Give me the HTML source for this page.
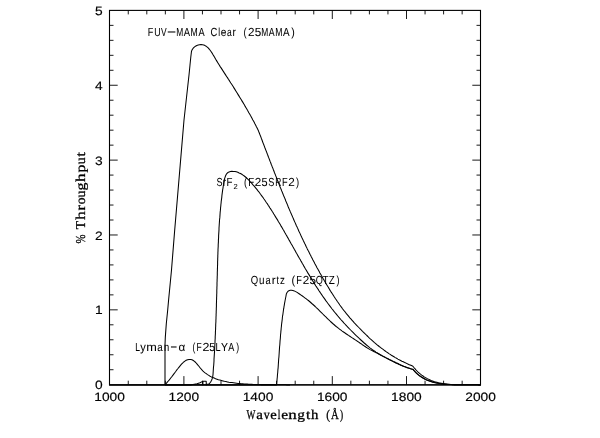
<!DOCTYPE html>
<html><head><meta charset="utf-8"><title>Throughput</title>
<style>
html,body{margin:0;padding:0;background:#fff;}
svg{display:block}
text{text-rendering:geometricPrecision}
.tick text{font-family:"Liberation Sans",sans-serif;font-size:12.1px;fill:#000;stroke:#000;stroke-width:0.15px}
.lab text{font-family:"Liberation Sans",sans-serif;font-size:11.7px;fill:#000;stroke:#000;stroke-width:0.05px}
.ax text{font-family:"Liberation Serif",serif;font-size:13.5px;fill:#000;stroke:#000;stroke-width:0.3px}
</style></head><body>
<svg width="600" height="438" viewBox="0 0 600 438">
<rect width="600" height="438" fill="#fff"/>
<g fill="none" stroke="#000" stroke-width="1.05" stroke-linejoin="round">
<path d="M165.0,385.0 L165.0,345.0 L165.3,337.4 L166.3,323.7 L167.7,310.0 L168.6,300.0 L171.5,270.0 L174.7,230.0 L180.2,165.0 L184.0,120.0 L189.0,75.0 L190.0,65.0 L190.8,57.0 L191.5,51.2 L192.2,49.6 L193.2,48.2 L194.3,47.1 L195.5,46.2 L196.8,45.5 L198.2,45.0 L199.6,44.7 L201.0,44.6 L202.4,44.7 L203.8,45.1 L205.0,45.6 L206.2,46.3 L207.3,47.1 L208.4,48.1 L209.4,49.3 L210.3,50.5 L211.2,51.8 L212.1,53.1 L212.9,54.5 L213.8,55.9 L214.6,57.3 L215.4,58.7 L216.2,60.1 L217.0,61.4 L217.8,62.7 L218.6,64.0 L219.4,65.3 L220.2,66.6 L221.1,67.9 L221.9,69.1 L222.7,70.4 L223.5,71.6 L224.3,72.9 L225.1,74.1 L225.9,75.4 L226.8,76.7 L227.6,77.9 L228.4,79.2 L229.2,80.4 L230.0,81.7 L230.8,83.0 L231.7,84.3 L232.5,85.5 L233.3,86.8 L234.1,88.1 L234.9,89.4 L235.7,90.7 L236.5,92.0 L237.3,93.3 L238.1,94.6 L238.9,95.9 L239.7,97.2 L240.5,98.5 L241.3,99.8 L242.1,101.1 L242.9,102.4 L243.7,103.7 L244.5,105.0 L245.2,106.4 L246.0,107.7 L246.8,109.0 L247.5,110.3 L248.3,111.7 L249.0,113.0 L249.8,114.3 L250.5,115.6 L251.3,117.0 L252.0,118.3 L252.7,119.7 L253.5,121.0 L254.2,122.3 L254.9,123.7 L255.6,125.0 L256.3,126.4 L257.0,127.7 L257.6,129.1 L258.3,130.4 L258.8,131.8 L259.4,133.2 L259.9,134.6 L260.5,136.0 L261.0,137.4 L261.5,138.8 L262.1,140.3 L262.6,141.7 L263.1,143.1 L263.7,144.5 L264.2,145.9 L264.7,147.3 L265.3,148.7 L265.8,150.1 L266.4,151.5 L266.9,152.9 L267.4,154.3 L268.0,155.8 L268.5,157.2 L269.1,158.6 L269.6,160.0 L270.1,161.4 L270.7,162.8 L271.2,164.2 L271.8,165.6 L272.3,167.0 L272.9,168.4 L273.4,169.8 L274.0,171.3 L274.5,172.7 L275.1,174.1 L275.6,175.5 L276.2,176.9 L276.7,178.3 L277.3,179.7 L277.8,181.1 L278.4,182.5 L278.9,183.9 L279.5,185.3 L280.0,186.7 L280.6,188.1 L281.2,189.5 L281.7,190.9 L282.3,192.3 L282.9,193.7 L283.4,195.1 L284.0,196.5 L284.6,197.9 L285.2,199.3 L285.7,200.7 L286.3,202.1 L286.9,203.5 L287.5,204.9 L288.0,206.3 L288.6,207.7 L289.2,209.1 L289.8,210.5 L290.4,211.9 L291.0,213.2 L291.6,214.6 L292.2,216.0 L292.8,217.4 L293.4,218.8 L294.0,220.2 L294.6,221.6 L295.2,222.9 L295.8,224.3 L296.4,225.7 L297.1,227.1 L297.7,228.4 L298.3,229.8 L298.9,231.2 L299.6,232.6 L300.2,233.9 L300.8,235.3 L301.5,236.7 L302.1,238.0 L302.8,239.4 L303.4,240.8 L304.0,242.1 L304.7,243.5 L305.4,244.8 L306.0,246.2 L306.7,247.6 L307.3,248.9 L308.0,250.3 L308.7,251.6 L309.4,253.0 L310.0,254.3 L310.7,255.6 L311.4,257.0 L312.1,258.3 L312.8,259.7 L313.5,261.0 L314.2,262.3 L314.9,263.7 L315.6,265.0 L316.3,266.3 L317.0,267.7 L317.8,269.0 L318.5,270.3 L319.2,271.6 L319.9,272.9 L320.7,274.3 L321.4,275.6 L322.2,276.9 L322.9,278.2 L323.7,279.5 L324.4,280.8 L325.2,282.1 L325.9,283.4 L326.7,284.7 L327.5,286.0 L328.3,287.3 L329.1,288.6 L329.8,289.9 L330.6,291.2 L331.4,292.4 L332.3,293.7 L333.1,295.0 L333.9,296.3 L334.7,297.5 L335.5,298.8 L336.4,300.0 L337.2,301.3 L338.1,302.5 L339.0,303.8 L339.8,305.0 L340.7,306.2 L341.6,307.4 L342.5,308.7 L343.4,309.9 L344.3,311.0 L345.3,312.2 L346.2,313.4 L347.2,314.6 L348.1,315.7 L349.1,316.9 L350.1,318.1 L351.1,319.2 L352.1,320.3 L353.1,321.4 L354.1,322.6 L355.1,323.7 L356.2,324.8 L357.2,325.9 L358.3,327.0 L359.3,328.0 L360.4,329.1 L361.4,330.2 L362.5,331.3 L363.6,332.3 L364.6,333.4 L365.7,334.4 L366.8,335.5 L367.9,336.5 L368.9,337.6 L370.0,338.6 L371.2,339.6 L372.3,340.6 L373.4,341.6 L374.5,342.6 L375.7,343.6 L376.8,344.6 L378.0,345.5 L379.2,346.5 L380.4,347.4 L381.6,348.3 L382.8,349.2 L384.0,350.1 L385.2,351.0 L386.4,351.9 L387.7,352.7 L388.9,353.6 L390.2,354.4 L391.4,355.2 L392.7,356.0 L394.0,356.8 L395.3,357.6 L396.6,358.3 L397.9,359.1 L399.2,359.8 L400.6,360.5 L401.9,361.2 L403.3,361.8 L404.6,362.5 L406.0,363.1 L407.4,363.8 L408.7,364.4 L410.1,365.0 L411.5,365.6 L412.9,366.2 L413.9,367.5 L414.9,368.7 L415.9,369.9 L417.0,371.0 L418.1,372.1 L419.3,373.2 L420.5,374.2 L421.7,375.1 L423.0,376.0 L424.2,376.9 L425.6,377.7 L426.9,378.4 L428.3,379.1 L429.7,379.8 L431.1,380.4 L432.5,380.9 L433.9,381.5 L435.4,381.9 L436.9,382.3 L438.4,382.7 L439.9,383.0 L441.4,383.3 L443.0,383.6 L444.5,383.8 L446.1,384.0 L447.7,384.2 L449.2,384.3 L450.8,384.4 L452.4,384.5 L454.0,384.6 L455.6,384.6 L457.2,384.7 L458.8,384.7 L460.4,384.7 L462.0,384.7 L463.5,384.7 L465.1,384.7 L466.7,384.7 L468.3,384.7 L469.8,384.7 L471.4,384.7 L472.9,384.7 L474.5,384.7 L476.0,384.8 L477.5,384.8 L479.0,384.9 L480.5,385.0"/>
<path d="M165.0,385.0 L190.5,385.0 L193.0,384.6 L197.0,383.8 L200.0,382.7 L202.6,381.4 L202.9,385.0 L202.9,381.2 L206.2,381.2 L206.3,385.0 L206.4,384.2 L208.9,383.9 L210.0,382.8 L210.9,381.6 L211.6,380.3 L212.1,378.9 L212.5,377.5 L212.8,376.1 L213.0,374.6 L213.1,373.1 L213.2,371.6 L213.3,370.0 L213.4,368.5 L213.5,367.0 L213.7,365.5 L213.8,364.0 L213.9,362.5 L214.0,361.0 L214.0,359.4 L214.1,357.9 L214.2,356.4 L214.3,354.9 L214.4,353.4 L214.5,351.9 L214.6,350.4 L214.7,348.9 L214.7,347.4 L214.8,345.9 L214.9,344.4 L215.0,342.9 L215.0,341.4 L215.1,339.8 L215.2,338.3 L215.2,336.8 L215.3,335.3 L215.4,333.8 L215.4,332.3 L215.5,330.8 L215.6,329.3 L215.6,327.8 L215.7,326.3 L215.7,324.8 L215.8,323.3 L215.9,321.8 L215.9,320.3 L216.0,318.8 L216.0,317.3 L216.1,315.8 L216.1,314.3 L216.2,312.8 L216.2,311.3 L216.3,309.8 L216.3,308.3 L216.4,306.8 L216.4,305.3 L216.4,303.8 L216.5,302.3 L216.5,300.8 L216.6,299.3 L216.6,297.8 L216.7,296.3 L216.7,294.8 L216.8,293.3 L216.8,291.8 L216.8,290.2 L216.9,288.7 L216.9,287.2 L217.0,285.7 L217.0,284.2 L217.0,282.7 L217.1,281.2 L217.1,279.7 L217.2,278.2 L217.2,276.7 L217.3,275.2 L217.3,273.7 L217.3,272.2 L217.4,270.7 L217.4,269.1 L217.5,267.6 L217.5,266.1 L217.6,264.6 L217.6,263.1 L217.6,261.6 L217.7,260.1 L217.7,258.6 L217.8,257.0 L217.8,255.5 L217.9,254.0 L217.9,252.5 L218.0,251.0 L218.0,249.5 L218.1,248.0 L218.2,246.4 L218.2,244.9 L218.3,243.4 L218.4,241.9 L218.4,240.4 L218.5,238.9 L218.6,237.4 L218.6,235.9 L218.7,234.4 L218.8,232.9 L218.9,231.4 L219.0,229.8 L219.0,228.3 L219.1,226.8 L219.2,225.3 L219.3,223.8 L219.4,222.3 L219.5,220.8 L219.6,219.3 L219.8,217.9 L219.9,216.4 L220.0,214.9 L220.1,213.4 L220.2,211.9 L220.4,210.4 L220.5,208.9 L220.6,207.4 L220.8,206.0 L220.9,204.5 L221.1,203.0 L221.2,201.5 L221.4,200.1 L221.6,198.6 L221.8,197.1 L221.9,195.6 L222.1,194.1 L222.3,192.6 L222.5,191.1 L222.7,189.6 L223.0,188.1 L223.2,186.5 L223.5,184.9 L223.7,183.3 L224.0,181.7 L224.3,180.1 L224.6,178.6 L225.1,177.1 L225.6,175.7 L226.2,174.5 L227.0,173.4 L228.0,172.5 L229.1,171.9 L230.4,171.5 L231.9,171.3 L233.4,171.4 L234.9,171.5 L236.3,171.8 L237.8,172.3 L239.1,172.9 L240.5,173.5 L241.8,174.3 L243.0,175.1 L244.3,176.0 L245.5,177.0 L246.6,178.0 L247.8,179.1 L248.9,180.2 L249.9,181.4 L251.0,182.5 L252.0,183.6 L253.0,184.8 L254.0,185.9 L255.0,187.1 L256.0,188.3 L256.9,189.4 L257.8,190.6 L258.8,191.8 L259.7,193.0 L260.5,194.2 L261.4,195.4 L262.3,196.6 L263.2,197.8 L264.0,199.0 L264.9,200.2 L265.7,201.5 L266.5,202.7 L267.4,203.9 L268.2,205.2 L269.0,206.4 L269.8,207.7 L270.6,208.9 L271.5,210.2 L272.3,211.5 L273.1,212.7 L273.8,214.0 L274.6,215.3 L275.4,216.6 L276.2,217.9 L277.0,219.1 L277.8,220.4 L278.5,221.7 L279.3,223.0 L280.1,224.3 L280.8,225.6 L281.6,226.9 L282.4,228.2 L283.1,229.5 L283.9,230.8 L284.6,232.2 L285.4,233.5 L286.1,234.8 L286.9,236.1 L287.6,237.4 L288.4,238.7 L289.1,240.1 L289.9,241.4 L290.6,242.7 L291.3,244.0 L292.1,245.3 L292.8,246.6 L293.6,248.0 L294.3,249.3 L295.1,250.6 L295.8,251.9 L296.5,253.2 L297.3,254.6 L298.0,255.9 L298.8,257.2 L299.5,258.5 L300.3,259.8 L301.0,261.1 L301.8,262.4 L302.5,263.7 L303.3,265.1 L304.0,266.4 L304.8,267.7 L305.5,269.0 L306.3,270.3 L307.1,271.6 L307.8,272.9 L308.6,274.1 L309.4,275.4 L310.2,276.7 L311.0,278.0 L311.7,279.3 L312.5,280.6 L313.3,281.8 L314.1,283.1 L314.9,284.4 L315.7,285.7 L316.5,286.9 L317.4,288.2 L318.2,289.4 L319.0,290.7 L319.8,291.9 L320.7,293.2 L321.5,294.4 L322.4,295.7 L323.2,296.9 L324.1,298.1 L325.0,299.4 L325.8,300.6 L326.7,301.8 L327.6,303.0 L328.5,304.2 L329.4,305.4 L330.3,306.6 L331.2,307.8 L332.1,309.0 L333.1,310.2 L334.0,311.4 L334.9,312.5 L335.9,313.7 L336.9,314.9 L337.8,316.0 L338.8,317.2 L339.8,318.3 L340.8,319.5 L341.8,320.6 L342.8,321.7 L343.8,322.9 L344.9,324.0 L345.9,325.1 L346.9,326.2 L348.0,327.3 L349.0,328.4 L350.1,329.5 L351.1,330.5 L352.2,331.6 L353.3,332.7 L354.4,333.8 L355.4,334.8 L356.5,335.9 L357.6,336.9 L358.7,337.9 L359.8,339.0 L360.9,340.0 L362.0,341.0 L363.1,342.0 L364.2,343.0 L365.4,344.0 L366.5,345.0 L367.6,345.9 L368.8,346.9 L369.9,347.8 L371.1,348.7 L372.3,349.6 L373.5,350.5 L374.8,351.3 L376.0,352.1 L377.3,352.9 L378.6,353.7 L379.9,354.5 L381.2,355.2 L382.5,356.0 L383.9,356.7 L385.2,357.4 L386.6,358.1 L387.9,358.7 L389.3,359.4 L390.7,360.1 L392.0,360.7 L393.4,361.4 L394.8,362.0 L396.1,362.7 L397.5,363.3 L398.8,364.0 L400.2,364.6 L401.5,365.3 L402.9,365.9 L404.2,366.5 L405.6,367.0 L407.0,367.5 L408.4,368.0 L409.9,368.5 L411.4,368.9 L412.9,369.2 L414.0,370.5 L415.1,371.7 L416.2,372.8 L417.4,373.9 L418.6,374.9 L419.8,375.8 L421.1,376.7 L422.4,377.5 L423.7,378.3 L425.0,379.0 L426.4,379.7 L427.8,380.3 L429.2,380.8 L430.7,381.3 L432.1,381.8 L433.6,382.2 L435.1,382.6 L436.6,382.9 L438.2,383.2 L439.7,383.5 L441.3,383.7 L442.8,383.9 L444.4,384.1 L446.0,384.2 L447.6,384.3 L449.2,384.4 L450.8,384.5 L452.4,384.6 L454.0,384.6 L455.6,384.6 L457.3,384.7 L458.9,384.7 L460.5,384.7 L462.1,384.7 L463.7,384.7 L465.3,384.7 L466.8,384.7 L468.4,384.6 L470.0,384.7 L471.5,384.7 L473.1,384.7 L474.6,384.7 L476.1,384.8 L477.6,384.8 L479.1,384.9 L480.5,385.0"/>
<path d="M109.5,385.0 L276.5,385.0 L276.7,383.5 L276.8,381.9 L277.0,380.4 L277.1,378.9 L277.3,377.3 L277.4,375.8 L277.5,374.2 L277.7,372.7 L277.8,371.2 L277.9,369.6 L278.1,368.1 L278.2,366.6 L278.3,365.0 L278.4,363.5 L278.5,361.9 L278.6,360.4 L278.7,358.8 L278.9,357.3 L279.0,355.8 L279.1,354.2 L279.2,352.7 L279.3,351.1 L279.4,349.6 L279.5,348.1 L279.6,346.5 L279.8,345.0 L279.9,343.4 L280.0,341.9 L280.1,340.4 L280.3,338.8 L280.4,337.3 L280.5,335.7 L280.6,334.2 L280.8,332.7 L280.9,331.1 L281.1,329.6 L281.2,328.0 L281.4,326.5 L281.5,325.0 L281.7,323.4 L281.9,321.9 L282.1,320.4 L282.3,318.8 L282.4,317.3 L282.6,315.8 L282.9,314.3 L283.1,312.7 L283.3,311.2 L283.5,309.7 L283.8,308.2 L284.0,306.6 L284.3,305.1 L284.5,303.6 L284.8,302.1 L285.1,300.5 L285.4,299.0 L285.7,297.5 L286.0,296.0 L286.3,294.1 L286.9,292.7 L287.8,291.5 L288.9,290.7 L290.2,290.3 L291.5,290.2 L292.9,290.5 L294.3,290.9 L295.7,291.6 L297.1,292.4 L298.4,293.3 L299.8,294.2 L301.1,295.1 L302.4,296.0 L303.6,296.9 L304.8,297.8 L306.0,298.7 L307.2,299.6 L308.4,300.5 L309.6,301.5 L310.7,302.5 L311.8,303.5 L313.0,304.5 L314.1,305.5 L315.2,306.5 L316.3,307.6 L317.4,308.6 L318.5,309.7 L319.6,310.8 L320.6,311.8 L321.7,312.9 L322.8,314.0 L323.9,315.1 L325.0,316.2 L326.1,317.2 L327.2,318.3 L328.3,319.4 L329.4,320.4 L330.5,321.5 L331.6,322.5 L332.7,323.5 L333.9,324.5 L335.0,325.5 L336.2,326.5 L337.4,327.4 L338.6,328.4 L339.8,329.3 L341.0,330.2 L342.2,331.1 L343.5,332.0 L344.7,332.8 L346.0,333.7 L347.2,334.5 L348.5,335.4 L349.8,336.2 L351.1,337.1 L352.3,337.9 L353.6,338.7 L354.9,339.6 L356.1,340.4 L357.4,341.3 L358.7,342.1 L359.9,343.0 L361.2,343.8 L362.4,344.7 L363.7,345.6 L365.0,346.5 L366.2,347.3 L367.5,348.1 L368.8,348.9 L370.1,349.6 L371.5,350.3 L372.9,351.0 L374.2,351.7 L375.6,352.4 L376.9,353.0 L378.3,353.7 L379.6,354.5 L381.0,355.2 L382.3,355.9 L383.7,356.6 L385.0,357.3 L386.4,358.1 L387.7,358.8 L389.0,359.5 L390.4,360.2 L391.7,360.9 L393.1,361.6 L394.5,362.3 L395.8,363.0 L397.2,363.6 L398.6,364.2 L400.0,364.9 L401.4,365.5 L402.8,366.1 L404.2,366.6 L405.6,367.1 L407.0,367.7 L408.5,368.1 L409.9,368.6 L411.4,369.0 L412.9,369.4 L414.0,370.7 L415.1,371.9 L416.2,373.0 L417.4,374.1 L418.6,375.1 L419.8,376.1 L421.1,376.9 L422.4,377.7 L423.7,378.5 L425.0,379.2 L426.4,379.9 L427.8,380.5 L429.2,381.0 L430.7,381.5 L432.1,382.0 L433.6,382.4 L435.1,382.7 L436.6,383.1 L438.2,383.3 L439.7,383.6 L441.3,383.8 L442.8,384.0 L444.4,384.2 L446.0,384.3 L447.6,384.4 L449.2,384.5 L450.8,384.6 L452.4,384.7 L454.0,384.7 L455.6,384.7 L457.3,384.7 L458.9,384.7 L460.5,384.7 L462.1,384.7 L463.7,384.7 L465.3,384.7 L466.8,384.7 L468.4,384.7 L470.0,384.7 L471.5,384.7 L473.1,384.7 L474.6,384.7 L476.1,384.8 L477.6,384.8 L479.1,384.9 L480.5,385.0"/>
<path d="M165.2,384.5 L166.3,383.4 L167.3,382.2 L168.3,381.0 L169.3,379.9 L170.2,378.7 L171.1,377.5 L172.1,376.3 L173.0,375.1 L173.9,373.9 L174.8,372.7 L175.7,371.5 L176.6,370.2 L177.6,369.0 L178.5,367.8 L179.5,366.6 L180.5,365.4 L181.5,364.2 L182.6,363.1 L183.7,362.0 L184.9,361.1 L186.2,360.3 L187.6,359.7 L189.1,359.4 L190.6,359.4 L192.0,359.8 L193.3,360.5 L194.5,361.4 L195.7,362.5 L196.7,363.6 L197.7,364.8 L198.7,366.0 L199.7,367.3 L200.7,368.5 L201.7,369.7 L202.8,370.8 L203.9,371.8 L205.1,372.8 L206.3,373.7 L207.5,374.6 L208.8,375.4 L210.1,376.2 L211.4,376.9 L212.8,377.5 L214.2,378.1 L215.6,378.7 L217.0,379.2 L218.4,379.7 L219.9,380.1 L221.4,380.5 L222.9,380.9 L224.4,381.3 L225.9,381.6 L227.4,381.9 L228.9,382.2 L230.4,382.4 L232.0,382.6 L233.5,382.8 L235.0,383.0 L236.5,383.2 L238.1,383.4 L239.6,383.5 L241.1,383.7 L242.6,383.8 L244.2,383.9 L245.7,384.0 L247.2,384.1 L248.7,384.2 L250.3,384.3 L251.8,384.3 L253.3,384.4 L254.8,384.4 L256.4,384.5 L257.9,384.5 L259.4,384.5 L260.9,384.6 L262.5,384.6 L264.0,384.6 L265.5,384.6 L267.0,384.6 L268.6,384.6 L270.1,384.6 L271.6,384.6 L273.1,384.7 L274.7,384.7 L276.2,384.7 L277.7,384.7 L279.3,384.7 L280.8,384.7 L282.3,384.8 L283.9,384.8 L285.4,384.8 L286.9,384.9 L288.5,384.9 L290.0,385.0"/>
</g>
<path d="M128.25,384.7 v-4 M128.25,10.4 v4 M146.80,384.7 v-4 M146.80,10.4 v4 M165.35,384.7 v-4 M165.35,10.4 v4 M183.90,384.7 v-8.6 M183.90,10.4 v8.6 M202.45,384.7 v-4 M202.45,10.4 v4 M221.00,384.7 v-4 M221.00,10.4 v4 M239.55,384.7 v-4 M239.55,10.4 v4 M258.10,384.7 v-8.6 M258.10,10.4 v8.6 M276.65,384.7 v-4 M276.65,10.4 v4 M295.20,384.7 v-4 M295.20,10.4 v4 M313.75,384.7 v-4 M313.75,10.4 v4 M332.30,384.7 v-8.6 M332.30,10.4 v8.6 M350.85,384.7 v-4 M350.85,10.4 v4 M369.40,384.7 v-4 M369.40,10.4 v4 M387.95,384.7 v-4 M387.95,10.4 v4 M406.50,384.7 v-8.6 M406.50,10.4 v8.6 M425.05,384.7 v-4 M425.05,10.4 v4 M443.60,384.7 v-4 M443.60,10.4 v4 M462.15,384.7 v-4 M462.15,10.4 v4 M109.5,369.73 h4 M480.5,369.73 h-4 M109.5,354.76 h4 M480.5,354.76 h-4 M109.5,339.78 h4 M480.5,339.78 h-4 M109.5,324.81 h4 M480.5,324.81 h-4 M109.5,309.84 h8.2 M480.5,309.84 h-8.2 M109.5,294.87 h4 M480.5,294.87 h-4 M109.5,279.90 h4 M480.5,279.90 h-4 M109.5,264.92 h4 M480.5,264.92 h-4 M109.5,249.95 h4 M480.5,249.95 h-4 M109.5,234.98 h8.2 M480.5,234.98 h-8.2 M109.5,220.01 h4 M480.5,220.01 h-4 M109.5,205.04 h4 M480.5,205.04 h-4 M109.5,190.06 h4 M480.5,190.06 h-4 M109.5,175.09 h4 M480.5,175.09 h-4 M109.5,160.12 h8.2 M480.5,160.12 h-8.2 M109.5,145.15 h4 M480.5,145.15 h-4 M109.5,130.18 h4 M480.5,130.18 h-4 M109.5,115.20 h4 M480.5,115.20 h-4 M109.5,100.23 h4 M480.5,100.23 h-4 M109.5,85.26 h8.2 M480.5,85.26 h-8.2 M109.5,70.29 h4 M480.5,70.29 h-4 M109.5,55.32 h4 M480.5,55.32 h-4 M109.5,40.34 h4 M480.5,40.34 h-4 M109.5,25.37 h4 M480.5,25.37 h-4" fill="none" stroke="#000" stroke-width="0.9"/>
<rect x="109.5" y="10.4" width="371.0" height="374.3" fill="none" stroke="#000" stroke-width="1.1"/>
<path d="M109.0,385.1 H481.0" fill="none" stroke="#000" stroke-width="1.0"/>
<g class="tick"><text x="94.3" y="400.6" textLength="30.6" lengthAdjust="spacingAndGlyphs">1000</text><text x="168.5" y="400.6" textLength="30.6" lengthAdjust="spacingAndGlyphs">1200</text><text x="242.7" y="400.6" textLength="30.6" lengthAdjust="spacingAndGlyphs">1400</text><text x="316.9" y="400.6" textLength="30.6" lengthAdjust="spacingAndGlyphs">1600</text><text x="391.1" y="400.6" textLength="30.6" lengthAdjust="spacingAndGlyphs">1800</text><text x="465.3" y="400.6" textLength="30.6" lengthAdjust="spacingAndGlyphs">2000</text><text x="95.0" y="389.3" textLength="7.66" lengthAdjust="spacingAndGlyphs">0</text><text x="95.0" y="314.4" textLength="7.66" lengthAdjust="spacingAndGlyphs">1</text><text x="95.0" y="239.6" textLength="7.66" lengthAdjust="spacingAndGlyphs">2</text><text x="95.0" y="164.7" textLength="7.66" lengthAdjust="spacingAndGlyphs">3</text><text x="95.0" y="89.9" textLength="7.66" lengthAdjust="spacingAndGlyphs">4</text><text x="95.0" y="15.0" textLength="7.66" lengthAdjust="spacingAndGlyphs">5</text></g>
<g class="lab">
<text x="147.8 154.3 161.0 166.6 176.2 183.7 190.5 198.4 204.6 210.6 218.3 220.8 227.0 232.4 235.7 243.4 247.9 254.8 261.2 268.7 275.2 283.0 291.2" y="35.7 35.7 35.7 35.11 35.7 35.7 35.7 35.7 35.7 35.7 35.7 35.7 35.7 35.7 35.7 35.7 35.7 35.7 35.7 35.7 35.7 35.7 35.7"><tspan textLength="5.56" lengthAdjust="spacingAndGlyphs">F</tspan><tspan textLength="6.42" lengthAdjust="spacingAndGlyphs">U</tspan><tspan textLength="5.62" lengthAdjust="spacingAndGlyphs">V</tspan><tspan textLength="10.16" lengthAdjust="spacingAndGlyphs">-</tspan><tspan textLength="7.02" lengthAdjust="spacingAndGlyphs">M</tspan><tspan textLength="6.29" lengthAdjust="spacingAndGlyphs">A</tspan><tspan textLength="7.22" lengthAdjust="spacingAndGlyphs">M</tspan><tspan textLength="6.14" lengthAdjust="spacingAndGlyphs">A</tspan> <tspan textLength="6.78" lengthAdjust="spacingAndGlyphs">C</tspan><tspan textLength="1.87" lengthAdjust="spacingAndGlyphs">l</tspan><tspan textLength="5.63" lengthAdjust="spacingAndGlyphs">e</tspan><tspan textLength="4.69" lengthAdjust="spacingAndGlyphs">a</tspan><tspan textLength="3.33" lengthAdjust="spacingAndGlyphs">r</tspan> <tspan textLength="3.14" lengthAdjust="spacingAndGlyphs">(</tspan>25<tspan textLength="7.02" lengthAdjust="spacingAndGlyphs">M</tspan><tspan textLength="5.83" lengthAdjust="spacingAndGlyphs">A</tspan><tspan textLength="7.22" lengthAdjust="spacingAndGlyphs">M</tspan><tspan textLength="6.59" lengthAdjust="spacingAndGlyphs">A</tspan><tspan textLength="3.52" lengthAdjust="spacingAndGlyphs">)</tspan></text>
<text x="216.6 222.8 226.5" y="185.8 185.8 185.8"><tspan textLength="6.02" lengthAdjust="spacingAndGlyphs">S</tspan><tspan textLength="3.33" lengthAdjust="spacingAndGlyphs">r</tspan><tspan textLength="5.94" lengthAdjust="spacingAndGlyphs">F</tspan></text><text x="233.4" y="188.8" style="font-size:7.2px" textLength="4.2" lengthAdjust="spacingAndGlyphs">2</text><text x="243.9 248.2 254.7 261.6 268.3 275.2 282.0 288.2 295.9" y="185.8 185.8 185.8 185.8 185.8 185.8 185.8 185.8 185.8"><tspan textLength="3.14" lengthAdjust="spacingAndGlyphs">(</tspan><tspan textLength="5.94" lengthAdjust="spacingAndGlyphs">F</tspan>2<tspan textLength="6.10" lengthAdjust="spacingAndGlyphs">5</tspan><tspan textLength="6.08" lengthAdjust="spacingAndGlyphs">S</tspan><tspan textLength="6.08" lengthAdjust="spacingAndGlyphs">R</tspan><tspan textLength="5.62" lengthAdjust="spacingAndGlyphs">F</tspan>2<tspan textLength="3.14" lengthAdjust="spacingAndGlyphs">)</tspan></text>
<text x="250.8 258.9 265.4 271.8 276.6 280.1 284.9 291.4 296.3 302.8 309.5 315.8 322.7 328.8 336.6" y="283.6 283.6 283.6 283.6 283.6 283.6 283.6 283.6 283.6 283.6 283.6 283.6 283.6 283.6 283.6"><tspan textLength="7.41" lengthAdjust="spacingAndGlyphs">Q</tspan><tspan textLength="5.50" lengthAdjust="spacingAndGlyphs">u</tspan><tspan textLength="5.09" lengthAdjust="spacingAndGlyphs">a</tspan>r<tspan textLength="2.50" lengthAdjust="spacingAndGlyphs">t</tspan><tspan textLength="4.88" lengthAdjust="spacingAndGlyphs">z</tspan> <tspan textLength="3.64" lengthAdjust="spacingAndGlyphs">(</tspan><tspan textLength="5.62" lengthAdjust="spacingAndGlyphs">F</tspan>25<tspan textLength="7.06" lengthAdjust="spacingAndGlyphs">Q</tspan><tspan textLength="5.73" lengthAdjust="spacingAndGlyphs">T</tspan><tspan textLength="5.97" lengthAdjust="spacingAndGlyphs">Z</tspan><tspan textLength="3.01" lengthAdjust="spacingAndGlyphs">)</tspan></text>
<text x="135.3 140.2 146.2 157.3 164.1 170.0 178.6 185.1 192.5 196.6 202.4 209.3 215.5 221.0 228.2 236.2" y="350.8 350.8 350.8 350.8 350.8 350.21 350.8 350.8 350.8 350.8 350.8 350.8 350.8 350.8 350.8 350.8"><tspan textLength="4.69" lengthAdjust="spacingAndGlyphs">L</tspan><tspan textLength="5.55" lengthAdjust="spacingAndGlyphs">y</tspan><tspan textLength="10.58" lengthAdjust="spacingAndGlyphs">m</tspan><tspan textLength="5.41" lengthAdjust="spacingAndGlyphs">a</tspan><tspan textLength="5.24" lengthAdjust="spacingAndGlyphs">n</tspan><tspan textLength="7.50" lengthAdjust="spacingAndGlyphs">-</tspan>α <tspan textLength="2.81" lengthAdjust="spacingAndGlyphs">(</tspan><tspan textLength="5.15" lengthAdjust="spacingAndGlyphs">F</tspan><tspan textLength="6.96" lengthAdjust="spacingAndGlyphs">2</tspan><tspan textLength="5.87" lengthAdjust="spacingAndGlyphs">5</tspan><tspan textLength="5.05" lengthAdjust="spacingAndGlyphs">L</tspan><tspan textLength="6.96" lengthAdjust="spacingAndGlyphs">Y</tspan><tspan textLength="6.04" lengthAdjust="spacingAndGlyphs">A</tspan><tspan textLength="2.89" lengthAdjust="spacingAndGlyphs">)</tspan></text>
</g>
<g class="ax">
<text x="246.5 256.3 263.8 270.2 277.8 281.2 288.2 297.3 306.1 310.9 318.2 326.3 331.0 340.0" y="418.7 418.7 418.7 418.7 418.7 418.7 418.7 418.7 418.7 418.7 418.7 418.7 418.7 418.7"><tspan textLength="8.92" lengthAdjust="spacingAndGlyphs">W</tspan><tspan textLength="6.63" lengthAdjust="spacingAndGlyphs">a</tspan><tspan textLength="5.90" lengthAdjust="spacingAndGlyphs">v</tspan><tspan textLength="6.48" lengthAdjust="spacingAndGlyphs">e</tspan><tspan textLength="2.63" lengthAdjust="spacingAndGlyphs">l</tspan><tspan textLength="6.84" lengthAdjust="spacingAndGlyphs">e</tspan><tspan textLength="8.44" lengthAdjust="spacingAndGlyphs">n</tspan><tspan textLength="7.65" lengthAdjust="spacingAndGlyphs">g</tspan><tspan textLength="4.34" lengthAdjust="spacingAndGlyphs">t</tspan><tspan textLength="7.34" lengthAdjust="spacingAndGlyphs">h</tspan> <tspan textLength="3.76" lengthAdjust="spacingAndGlyphs">(</tspan><tspan textLength="7.78" lengthAdjust="spacingAndGlyphs">Å</tspan><tspan textLength="3.15" lengthAdjust="spacingAndGlyphs">)</tspan></text>
<g transform="translate(84.5,244) rotate(-90)"><text x="0.6 9.6 14.8 23.9 33.5 39.7 46.6 53.5 62.1 71.4 79.7 87.2" y="0 0 0 0 0 0 0 0 0 0 0 0"><tspan textLength="8.93" lengthAdjust="spacingAndGlyphs">%</tspan> T<tspan textLength="8.80" lengthAdjust="spacingAndGlyphs">h</tspan><tspan textLength="5.36" lengthAdjust="spacingAndGlyphs">r</tspan>ou<tspan textLength="7.99" lengthAdjust="spacingAndGlyphs">g</tspan><tspan textLength="8.59" lengthAdjust="spacingAndGlyphs">h</tspan><tspan textLength="7.87" lengthAdjust="spacingAndGlyphs">p</tspan>u<tspan textLength="4.66" lengthAdjust="spacingAndGlyphs">t</tspan></text></g>
</g>
</svg>
</body></html>
